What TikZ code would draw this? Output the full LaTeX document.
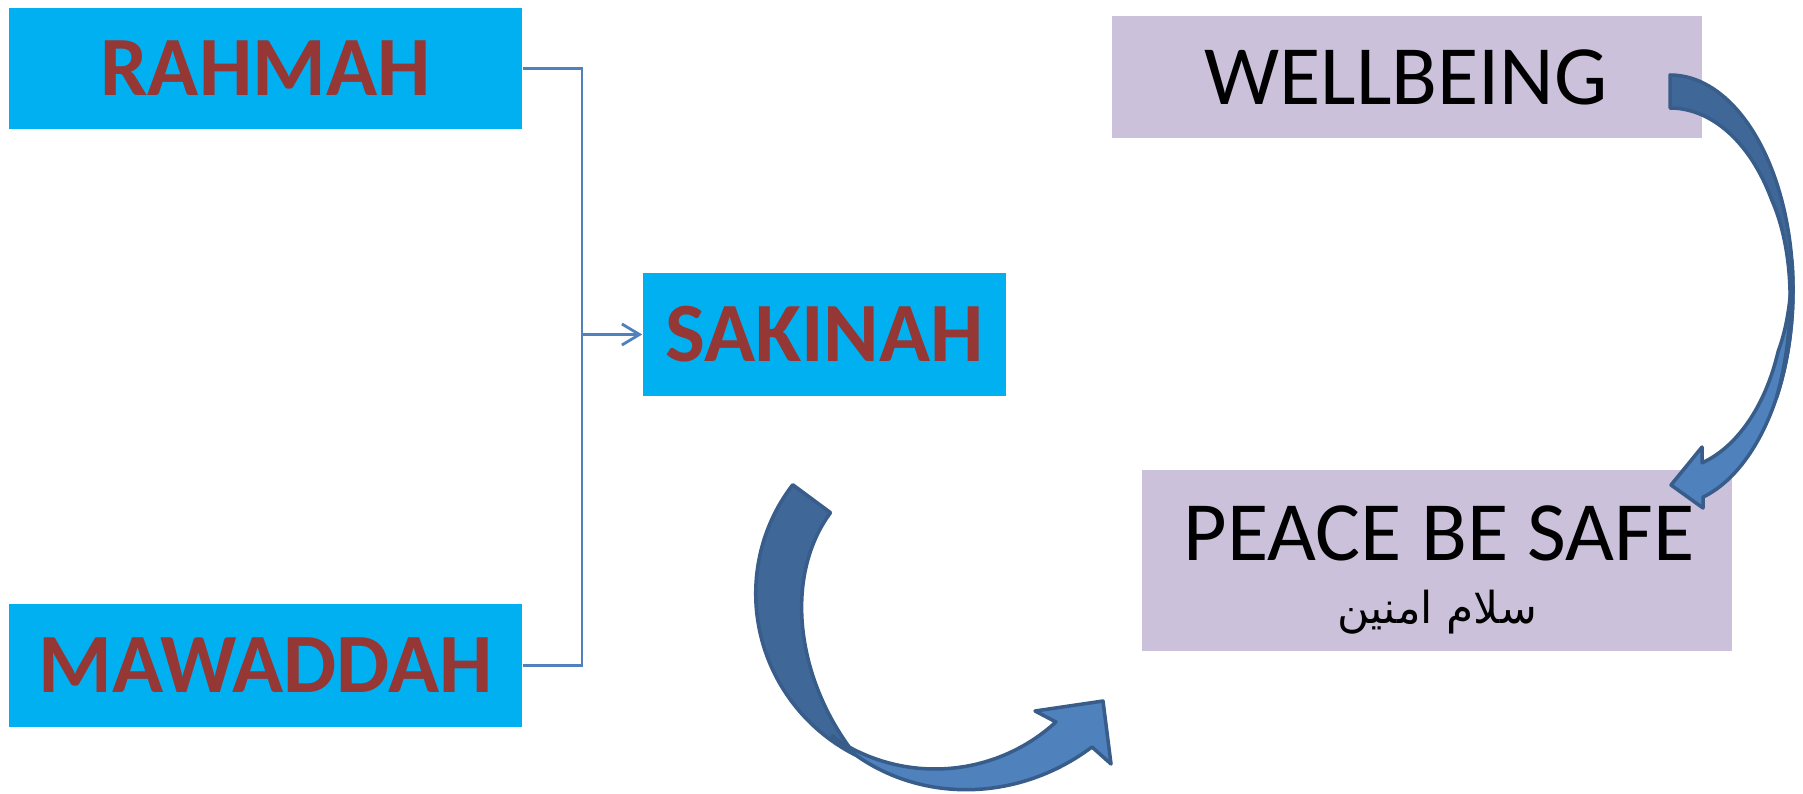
\documentclass[tikz,border=0pt]{standalone}
\usepackage{fontspec}
\setmainfont{Carlito}
\newfontfamily\arabicfont[Script=Arabic]{DejaVu Sans}
\TeXXeTstate=1
\usetikzlibrary{arrows.meta}
\definecolor{boxcyan}{HTML}{00B0F0}
\definecolor{boxlilac}{HTML}{CCC1DA}
\definecolor{txtred}{HTML}{953735}
\definecolor{conn}{HTML}{4F81BD}
\definecolor{arrdark}{HTML}{3F6797}
\definecolor{arrlight}{HTML}{4F81BD}
\definecolor{arrline}{HTML}{385D8A}
\begin{document}
\begin{tikzpicture}[x=0.01cm,y=-0.01cm,
  cyanbox/.style={fill=boxcyan, inner sep=0pt, text=txtred,
    font=\fontsize{24}{28}\selectfont\bfseries},
  lilacbox/.style={fill=boxlilac, inner sep=0pt},
  plaintext/.style={inner sep=0pt, text=black, font=\fontsize{24}{28}\selectfont},
  connline/.style={draw=conn, line width=0.8pt},
  bigarrow/.style={draw=arrline, line width=1pt, line join=round}]
\useasboundingbox (0,0) rectangle (1803,794);

% boxes
\node[cyanbox, minimum width=5.13cm, minimum height=1.21cm] (rahmah) at (265.5,68.5) {RAHMAH};
\node[cyanbox, minimum width=5.13cm, minimum height=1.23cm] (mawaddah) at (265.5,665.5) {MAWADDAH};
\node[cyanbox, minimum width=3.63cm, minimum height=1.23cm] (sakinah) at (824.5,334.5) {SAKINAH};
\node[lilacbox, minimum width=5.90cm, minimum height=1.22cm] (wellbeing) at (1407,77) {};
\node[plaintext] (wellbeingtxt) at (1406,77) {WELLBEING};
\node[lilacbox, minimum width=5.90cm, minimum height=1.81cm] (peace) at (1437,560.5) {};
\node[plaintext] (peacetxt) at (1439,533) {PEACE BE SAFE};
\node[inner sep=0pt, font=\arabicfont\fontsize{12.5}{15}\selectfont] (peacear) at (1437,612) {\beginR سلام امنين\endR};

% bracket connector
\coordinate (junction) at (582,334.5);
\draw[connline] (rahmah.east) -| (junction);
\draw[connline] (mawaddah.east) -| (junction);
\draw[connline, -{Straight Barb[length=5pt,width=6pt]}] (junction) -- (sakinah.west);

% bottom curved arrow (dark back part)
\draw[bigarrow, fill=arrdark]
  plot[domain=216.5:116, samples=60, variable=\t]
    ({935+(177+(216.5-\t)*0.062)*cos(\t)}, {590+(177+(216.5-\t)*0.062)*sin(\t)})
  -- plot[domain=116:216.5, samples=60, variable=\t]
    ({935+(130+53*((217-\t)/101)^3)*cos(\t)}, {590+(130+53*((217-\t)/101)^3)*sin(\t)})
  -- cycle;
% bottom curved arrow (light front part)
\draw[bigarrow, fill=arrlight]
  plot[domain=125:45, samples=60, variable=\t]
    ({935+(178+(125-\t)*0.55)*cos(\t)}, {590+(178+(125-\t)*0.55)*sin(\t)})
  -- (1111,764) -- (1103,701) -- (1035,711)
  -- plot[domain=47.5:125, samples=60, variable=\t]
    ({935+179*cos(\t)}, {590+179*sin(\t)})
  -- cycle;

% right curved arrow (light front part)
\draw[bigarrow, fill=arrlight]
  plot[domain=-8:74.4, samples=60, variable=\t]
    ({1670+123*cos(\t)}, {290+215*sin(\t)})
  -- (1703,508) -- (1671,485) -- (1702,447)
  -- plot[domain=73.8:-8, samples=60, variable=\t]
    ({1670+(115+8*max(0,min(1,(20-\t)/28)))*cos(\t)}, {290+(180+35*max(0,min(1,(20-\t)/28)))*sin(\t)})
  -- cycle;
% right curved arrow (dark back part)
\draw[bigarrow, fill=arrdark]
  plot[domain=-90:30, samples=60, variable=\t]
    ({1670+123*cos(\t)}, {290+215*sin(\t)})
  -- plot[domain=30:-90, samples=60, variable=\t]
    ({1670+(117+6*max(0,min(1,(\t+30)/60)))*cos(\t)}, {290+(182+33*max(0,min(1,(\t+30)/60)))*sin(\t)})
  -- cycle;
\end{tikzpicture}
\end{document}
